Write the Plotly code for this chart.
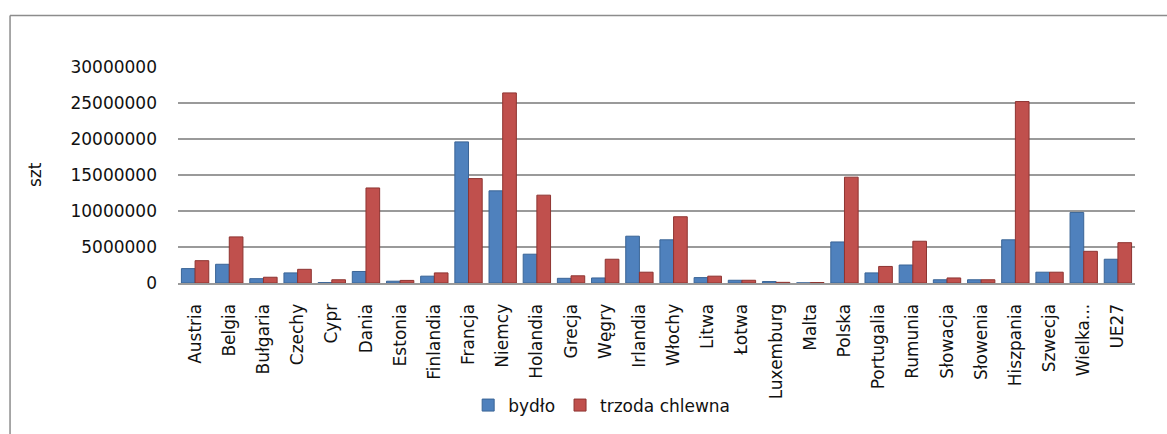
import plotly.graph_objects as go

categories = ["Austria", "Belgia", "Bułgaria", "Czechy", "Cypr", "Dania", "Estonia",
              "Finlandia", "Francja", "Niemcy", "Holandia", "Grecja", "Węgry", "Irlandia",
              "Włochy", "Litwa", "Łotwa", "Luxemburg", "Malta", "Polska", "Portugalia",
              "Rumunia", "Słowacja", "Słowenia", "Hiszpania", "Szwecja", "Wielka...", "UE27"]

bydlo = [2000000, 2600000, 600000, 1400000, 60000, 1600000, 250000,
         950000, 19600000, 12800000, 4000000, 650000, 700000, 6500000,
         6000000, 750000, 380000, 200000, 20000, 5700000, 1400000,
         2500000, 450000, 450000, 6000000, 1500000, 9800000, 3300000]

trzoda = [3100000, 6400000, 800000, 1900000, 450000, 13200000, 360000,
          1400000, 14500000, 26400000, 12200000, 1000000, 3300000, 1500000,
          9200000, 950000, 380000, 90000, 70000, 14700000, 2300000,
          5800000, 700000, 450000, 25200000, 1500000, 4400000, 5600000]

y_ticks = [0, 5000000, 10000000, 15000000, 20000000, 25000000, 30000000]

FONT = "DejaVu Sans"

fig = go.Figure()
fig.add_trace(go.Bar(x=categories, y=bydlo, name="bydło",
                     marker=dict(color="#4F81BD", line=dict(color="#3A6496", width=1))))
fig.add_trace(go.Bar(x=categories, y=trzoda, name="trzoda chlewna",
                     marker=dict(color="#C0504D", line=dict(color="#8E3431", width=1))))

# outer chart frame
fig.add_shape(type="line", xref="paper", yref="paper", x0=-0.1755, x1=-0.1755, y0=-0.70, y1=1.2385,
              line=dict(color="#8c8c8c", width=1.5))
fig.add_shape(type="line", xref="paper", yref="paper", x0=-0.1755, x1=1.04, y0=1.2385, y1=1.2385,
              line=dict(color="#8c8c8c", width=1.5))

fig.add_annotation(text="szt", xref="paper", yref="paper", x=-0.1494, y=0.50,
                   xanchor="center", yanchor="middle", textangle=-90, showarrow=False,
                   font=dict(family=FONT, size=17, color="#111"))

fig.update_layout(
    width=1167, height=434,
    margin=dict(l=178, r=32, t=67, b=150),
    paper_bgcolor="white", plot_bgcolor="white",
    barmode="group", bargap=0.2, bargroupgap=0.0,
    showlegend=True,
    legend=dict(orientation="h", x=0.3032, y=-0.56, xanchor="left", yanchor="middle",
                font=dict(family=FONT, size=17, color="#111"),
                itemwidth=30, traceorder="normal"),
    xaxis=dict(tickangle=-90, showgrid=False, showline=True, linecolor="#9a9a9a", linewidth=2,
               tickfont=dict(family=FONT, size=17, color="#111"), ticks="", automargin=False,
               ticklabelstandoff=12),
    yaxis=dict(range=[0, 30000000], tickvals=y_ticks, ticktext=[str(v) for v in y_ticks],
               showgrid=True, gridcolor="#9a9a9a", gridwidth=2, zeroline=False,
               showline=False, ticks="", ticklen=0, ticklabelstandoff=20, automargin=False,
               tickfont=dict(family=FONT, size=17, color="#111")),
)

fig.write_html("out.html", config={"displayModeBar": False},
               post_script="document.body.style.margin='0px';")
